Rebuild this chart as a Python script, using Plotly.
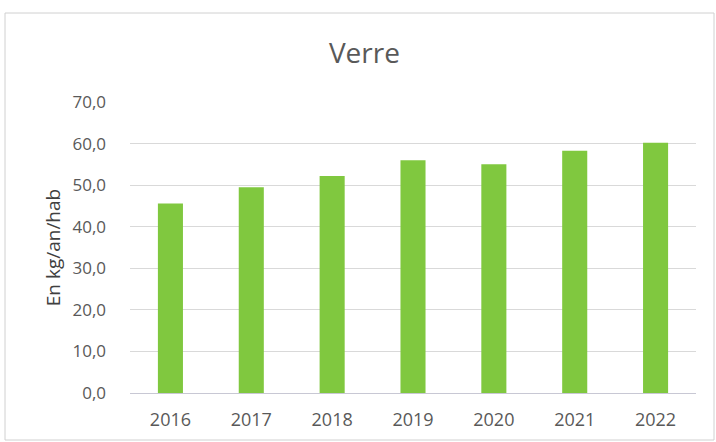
import plotly.graph_objects as go

# Collecte du verre, en kg par an et par habitant
years = ["2016", "2017", "2018", "2019", "2020", "2021", "2022"]
verre = [45.6, 49.5, 52.2, 56.0, 55.0, 58.3, 60.2]
y_ticks = [0, 10, 20, 30, 40, 50, 60, 70]

FONT = "Open Sans"
GREY = "#595959"

fig = go.Figure(
    go.Bar(
        x=years,
        y=verre,
        marker=dict(color="#80c83f", line=dict(width=0)),
    )
)

W, H = 716, 442
L, R, T, B = 130, 20, 102, 49
pw, ph = W - L - R, H - T - B


def px_x(v):
    return (v - L) / pw


def px_y(v):
    return (H - B - v) / ph


fig.update_layout(
    width=W,
    height=H,
    margin=dict(l=L, r=R, t=T, b=B),
    paper_bgcolor="white",
    plot_bgcolor="white",
    separators=", ",
    bargap=0.69,
    showlegend=False,
    title=dict(
        text="Verre",
        x=0.509,
        xanchor="center",
        y=1 - 53 / H,
        yanchor="middle",
        font=dict(family=FONT, size=28, color=GREY),
    ),
    xaxis=dict(
        automargin=False,
        showgrid=False,
        showline=True,
        linecolor="#c8c8d4",
        linewidth=1,
        ticks="",
        tickfont=dict(family=FONT, size=18, color=GREY),
        ticklabelstandoff=10,
    ),
    yaxis=dict(
        automargin=False,
        range=[0, 70],
        tickvals=y_ticks,
        tickformat=".1f",
        showgrid=True,
        gridcolor="#d9d9d9",
        gridwidth=1,
        zeroline=False,
        showline=False,
        ticks="",
        ticklabelstandoff=23,
        tickfont=dict(family=FONT, size=17, color=GREY),
        title=dict(
            text="En kg/an/hab",
            standoff=6,
            font=dict(family=FONT, size=19, color="#404040"),
        ),
    ),
    shapes=[
        dict(
            type="rect",
            xref="paper",
            yref="paper",
            x0=px_x(5),
            x1=px_x(714),
            y0=px_y(440),
            y1=px_y(13),
            line=dict(color="#d0d0d0", width=1),
            fillcolor="rgba(0,0,0,0)",
            layer="below",
        )
    ],
)

fig.write_html("out.html")
